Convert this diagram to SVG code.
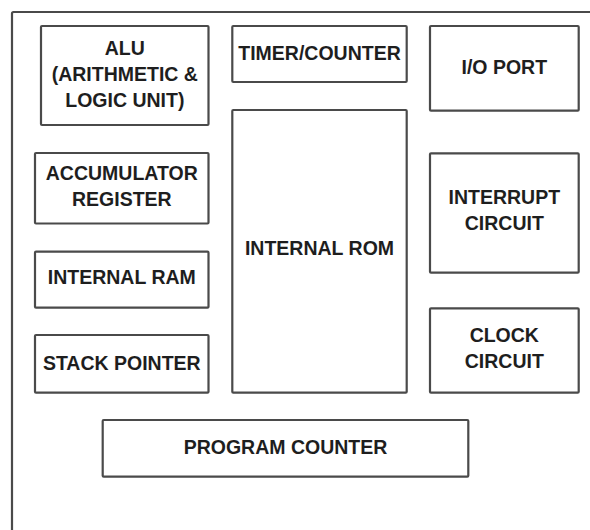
<svg xmlns="http://www.w3.org/2000/svg" width="590" height="530" viewBox="0 0 590 530">
<style>
.frame{fill:none;stroke:#4a4a4a;stroke-width:2.2}
.box{fill:#ffffff;stroke:#4a4a4a;stroke-width:2.2}
.lbl{font-family:"Liberation Sans",Arial,sans-serif;font-weight:bold;font-size:19.5px;fill:#1e1e1e;text-anchor:middle}
</style>
<rect width="590" height="530" fill="#ffffff"/>
<g id="frame"><rect class="frame" x="12" y="12" width="620" height="560" rx="1.5"/></g>
<g id="connectors"></g>
<g id="alu">
<rect class="box" x="41" y="26" width="167.5" height="99" rx="1"/>
<text class="lbl" x="124.8" y="55">ALU</text>
<text class="lbl" x="124.8" y="81">(ARITHMETIC &amp;</text>
<text class="lbl" x="124.8" y="107">LOGIC UNIT)</text>
</g>
<g id="accumulator">
<rect class="box" x="35" y="153" width="173.5" height="70.5" rx="1"/>
<text class="lbl" x="121.8" y="180">ACCUMULATOR</text>
<text class="lbl" x="121.8" y="206">REGISTER</text>
</g>
<g id="internal-ram">
<rect class="box" x="35" y="251.7" width="173.5" height="56" rx="1"/>
<text class="lbl" x="121.8" y="284.3">INTERNAL RAM</text>
</g>
<g id="stack-pointer">
<rect class="box" x="35" y="335" width="173.5" height="57.7" rx="1"/>
<text class="lbl" x="121.8" y="369.7">STACK POINTER</text>
</g>
<g id="timer-counter">
<rect class="box" x="232.3" y="26" width="174.4" height="56" rx="1"/>
<text class="lbl" x="319.5" y="60.3">TIMER/COUNTER</text>
</g>
<g id="internal-rom">
<rect class="box" x="232.3" y="110" width="174.4" height="282.7" rx="1"/>
<text class="lbl" x="319.5" y="255.3">INTERNAL ROM</text>
</g>
<g id="io-port">
<rect class="box" x="430" y="26" width="148.7" height="84.7" rx="1"/>
<text class="lbl" x="504.3" y="73.7">I/O PORT</text>
</g>
<g id="interrupt-circuit">
<rect class="box" x="430" y="153.3" width="148.7" height="119.4" rx="1"/>
<text class="lbl" x="504.3" y="204.3">INTERRUPT</text>
<text class="lbl" x="504.3" y="229.7">CIRCUIT</text>
</g>
<g id="clock-circuit">
<rect class="box" x="430" y="308.3" width="148.7" height="84.4" rx="1"/>
<text class="lbl" x="504.3" y="342">CLOCK</text>
<text class="lbl" x="504.3" y="367.7">CIRCUIT</text>
</g>
<g id="program-counter">
<rect class="box" x="102.7" y="420" width="365.6" height="56.7" rx="1"/>
<text class="lbl" x="285.5" y="453.7">PROGRAM COUNTER</text>
</g>
</svg>
